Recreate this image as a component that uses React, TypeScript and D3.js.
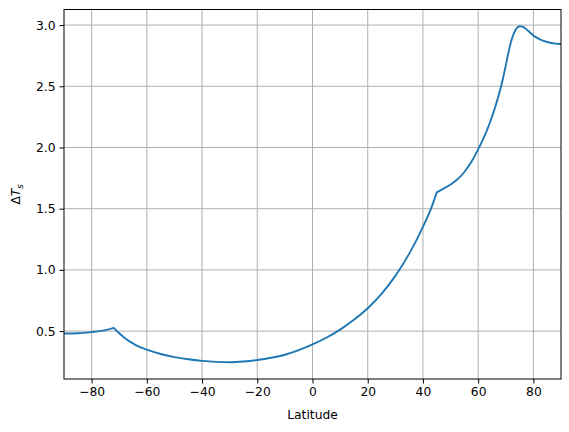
import { useEffect, useRef } from "react";
import * as d3 from "d3";

// latitude (deg) and surface temperature change
const latitudes = [
    -90, -85, -80, -75, -72, -70, -68, -66, -64, -62, -60, -55, -50, -45, -40, -35, -30, -25, -20, -15, -10, -5,
    0, 5, 10, 15, 20, 25, 30, 35, 40, 43, 45, 47, 50, 52, 55, 58, 60, 62, 64, 65, 66, 67, 68, 69, 70, 71, 72, 73,
    74, 75, 76, 77, 78, 80, 82, 85, 88, 90,
];
const deltaTs = [
    0.48, 0.482, 0.492, 0.508, 0.527, 0.482, 0.444, 0.412, 0.386, 0.365, 0.348, 0.313, 0.288, 0.27, 0.257, 0.249, 0.246, 0.252, 0.264, 0.282, 0.307, 0.344,
    0.391, 0.446, 0.512, 0.592, 0.687, 0.804, 0.951, 1.131, 1.352, 1.505, 1.634, 1.658, 1.697, 1.73, 1.8, 1.9, 1.985, 2.078, 2.188, 2.25, 2.318, 2.393, 2.473, 2.566, 2.671, 2.779, 2.872, 2.937,
    2.975, 2.99, 2.987, 2.974, 2.955, 2.915, 2.888, 2.862, 2.848, 2.845,
];
// latitudes where the profile has a sharp corner (ice edges)
const kinks = [ -72, 45 ];
const xTicks = [ -80, -60, -40, -20, 0, 20, 40, 60, 80 ];
const yTicks = [ 0.5, 1.0, 1.5, 2.0, 2.5, 3.0 ];

const W = 569, H = 432;
const FONT = "'DejaVu Sans', sans-serif";

export default function App ()
{
    const svgRef = useRef<SVGSVGElement>( null );

    useEffect( () =>
    {
        if ( !svgRef.current ) return;
        const svg = d3.select( svgRef.current );
        svg.selectAll( "*" ).remove();

        const m = { top: 9.5, right: 8, bottom: 53, left: 64 };
        const w = W - m.left - m.right;
        const h = H - m.top - m.bottom;
        const g = svg.append( "g" ).attr( "transform", `translate(${ m.left },${ m.top })` );

        const pts = latitudes.map( ( lat, i ) => ( { lat, v: deltaTs[ i ] } ) );
        const lo = d3.min( deltaTs )!, hi = d3.max( deltaTs )!;
        const pad = ( hi - lo ) * 0.05;

        const x = d3.scaleLinear().domain( [ -90, 90 ] ).range( [ 0, w ] );
        const y = d3.scaleLinear().domain( [ lo - pad, hi + pad ] ).range( [ h, 0 ] );

        // Grid
        g.append( "g" ).selectAll( "line" ).data( xTicks ).join( "line" )
            .attr( "x1", ( d ) => x( d ) ).attr( "x2", ( d ) => x( d ) ).attr( "y1", 0 ).attr( "y2", h )
            .attr( "stroke", "#b0b0b0" ).attr( "stroke-width", 1 );
        g.append( "g" ).selectAll( "line" ).data( yTicks ).join( "line" )
            .attr( "x1", 0 ).attr( "x2", w ).attr( "y1", ( d ) => y( d ) ).attr( "y2", ( d ) => y( d ) )
            .attr( "stroke", "#b0b0b0" ).attr( "stroke-width", 1 );

        // Line: smooth between kinks, sharp corners at the kinks
        const bounds = [ -90, ...kinks, 90 ];
        const segs = d3.pairs( bounds ).map( ( [ a, b ] ) => pts.filter( ( p ) => p.lat >= a && p.lat <= b ) );
        const lineGen = d3.line<{ lat: number; v: number }>().x( ( d ) => x( d.lat ) ).y( ( d ) => y( d.v ) ).curve( d3.curveMonotoneX );
        const d = segs.map( ( s, i ) => { const p = lineGen( s ) || ""; return i === 0 ? p : p.replace( /^M[^CL]*/, "" ); } ).join( "" );
        g.append( "path" ).attr( "fill", "none" ).attr( "stroke", "#1f77b4" )
            .attr( "stroke-width", 1.9 ).attr( "stroke-linejoin", "round" ).attr( "d", d );

        // Frame
        g.append( "rect" ).attr( "width", w ).attr( "height", h ).attr( "fill", "none" )
            .attr( "stroke", "#000" ).attr( "stroke-width", 1 );

        // Axes
        g.append( "g" ).attr( "transform", `translate(0,${ h })` )
            .call( d3.axisBottom( x ).tickValues( xTicks ).tickSize( 4.5 ).tickPadding( 4 ).tickFormat( d3.format( "d" ) ) )
            .call( ( a ) => a.select( ".domain" ).remove() )
            .call( ( a ) => a.selectAll( "line" ).attr( "stroke", "#000" ) )
            .selectAll( "text" ).attr( "fill", "#000" ).style( "font-size", "12.3px" ).style( "font-family", FONT );

        g.append( "g" )
            .call( d3.axisLeft( y ).tickValues( yTicks ).tickSize( 4.5 ).tickPadding( 4 ).tickFormat( d3.format( ".1f" ) ) )
            .call( ( a ) => a.select( ".domain" ).remove() )
            .call( ( a ) => a.selectAll( "line" ).attr( "stroke", "#000" ) )
            .selectAll( "text" ).attr( "fill", "#000" ).style( "font-size", "12.3px" ).style( "font-family", FONT );

        svg.append( "text" ).attr( "x", m.left + w / 2 ).attr( "y", 419 ).attr( "text-anchor", "middle" )
            .attr( "fill", "#000" ).style( "font-size", "12.3px" ).style( "font-family", FONT ).text( "Latitude" );

        const yl = svg.append( "text" ).attr( "transform", `translate(20,${ m.top + h / 2 }) rotate(-90)` )
            .attr( "text-anchor", "middle" ).attr( "fill", "#000" ).style( "font-size", "12.3px" ).style( "font-family", FONT );
        yl.append( "tspan" ).text( "Δ" );
        yl.append( "tspan" ).style( "font-style", "italic" ).text( "T" );
        yl.append( "tspan" ).attr( "dy", 3 ).style( "font-size", "9px" ).style( "font-style", "italic" ).text( "s" );
    }, [] );

    return (
        <svg ref={ svgRef } width={ W } height={ H } style={ { position: "absolute", left: 0, top: 0, background: "#fff" } } />
    );
}
